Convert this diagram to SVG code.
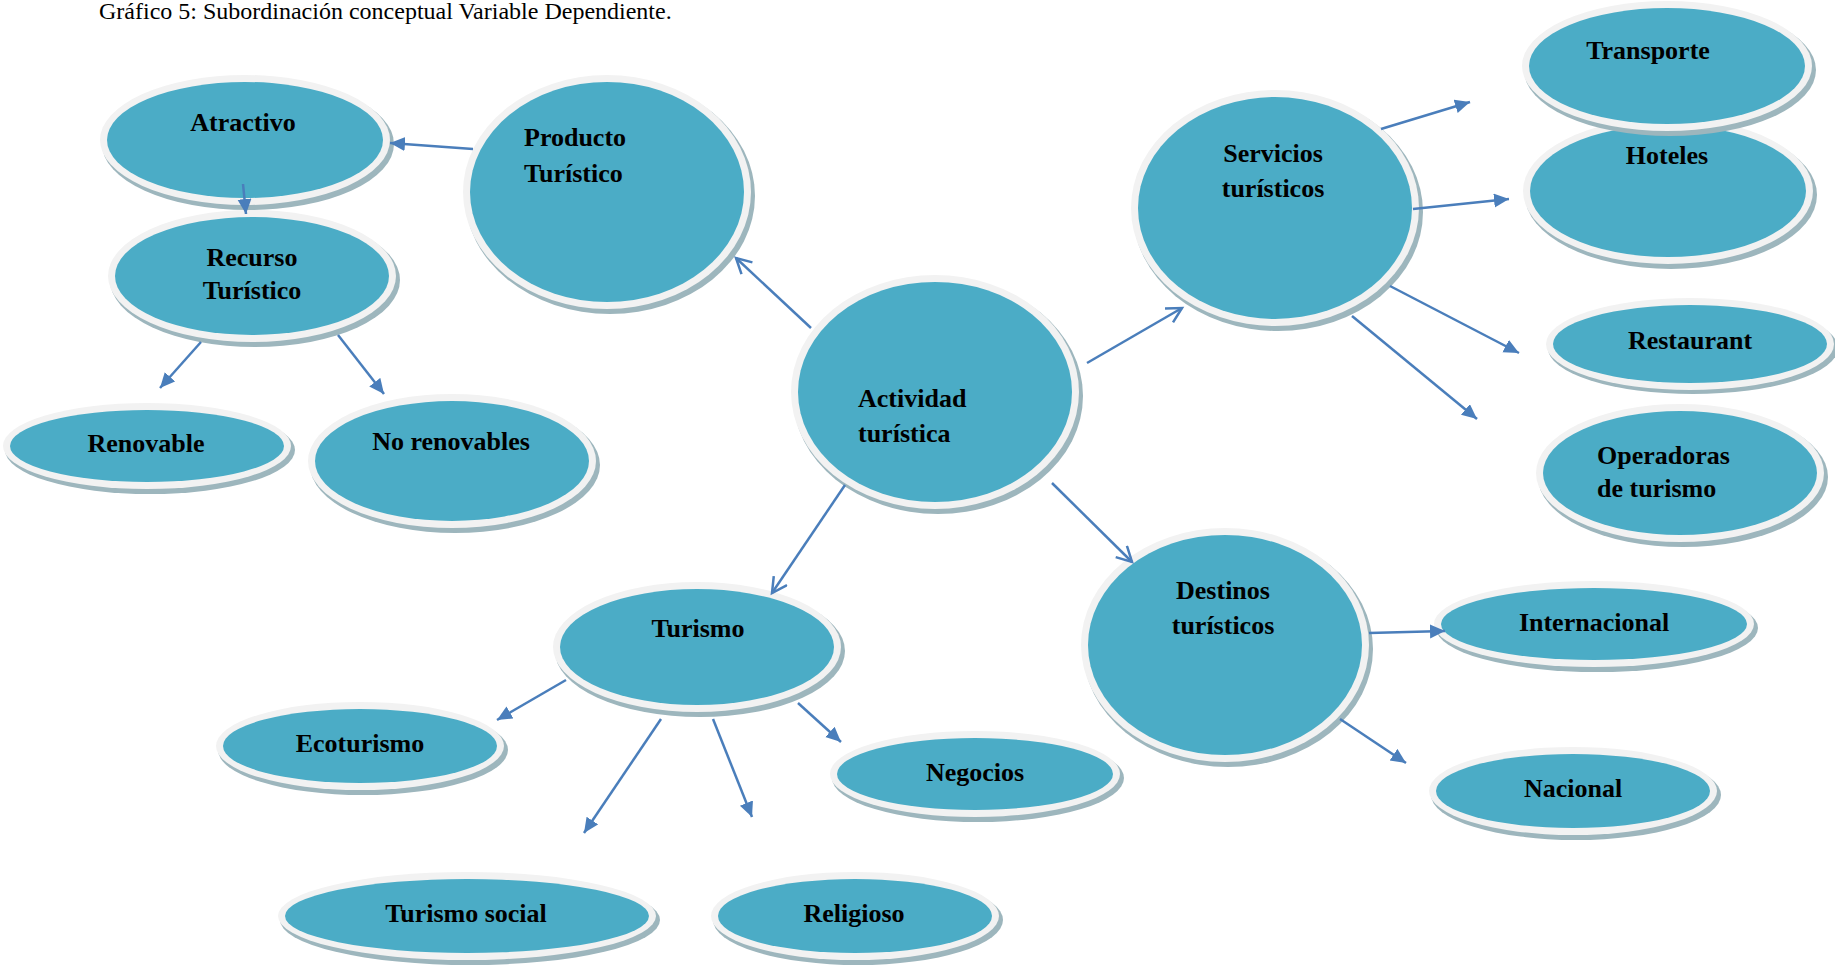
<svg xmlns="http://www.w3.org/2000/svg" width="1835" height="966" viewBox="0 0 1835 966">
<style>
.sh{fill:#9db6bd}
.rg{fill:#f2f2f2}
.fi{fill:#4bacc6}
.t{font-family:"Liberation Serif","Times New Roman",serif;font-weight:bold;font-size:26px;fill:#000}
.c{text-anchor:middle}
.ttl{font-family:"Liberation Serif","Times New Roman",serif;font-size:24px;fill:#000}
.ln{stroke:#4a7ebb;stroke-width:2.5;fill:none}
.f{marker-end:url(#af)}
.o{marker-end:url(#ao)}
</style>
<defs>
<marker id="af" markerUnits="userSpaceOnUse" markerWidth="18" markerHeight="16" refX="15" refY="7" orient="auto">
<path d="M0,0 L15,7 L0,14 z" fill="#4a7ebb"/>
</marker>
<marker id="ao" markerUnits="userSpaceOnUse" markerWidth="20" markerHeight="20" refX="16" refY="9" orient="auto">
<path d="M1,1 L16,9 L1,17" fill="none" stroke="#4a7ebb" stroke-width="2.5"/>
</marker>
</defs>
<rect width="1835" height="966" fill="#fff"/>
<text class="ttl" x="99" y="19">Gráfico 5: Subordinación conceptual Variable Dependiente.</text>

<g id="atractivo">
<ellipse class="sh" cx="248" cy="144" rx="146" ry="66"/>
<ellipse class="rg" cx="245" cy="140" rx="145" ry="65"/>
<ellipse class="fi" cx="245" cy="140" rx="138" ry="58"/>
<text class="t c" x="243" y="131">Atractivo</text>
</g>
<g id="recurso">
<ellipse class="sh" cx="255" cy="280" rx="145" ry="67"/>
<ellipse class="rg" cx="252" cy="276" rx="144" ry="66"/>
<ellipse class="fi" cx="252" cy="276" rx="137" ry="59"/>
<text class="t c" x="252" y="266">Recurso</text>
<text class="t c" x="252" y="299">Turístico</text>
</g>
<g id="producto">
<ellipse class="sh" cx="610" cy="196" rx="145" ry="118"/>
<ellipse class="rg" cx="607" cy="192" rx="144" ry="117"/>
<ellipse class="fi" cx="607" cy="192" rx="137" ry="110"/>
<text class="t" x="524" y="146">Producto</text>
<text class="t" x="524" y="182">Turístico</text>
</g>
<g id="actividad">
<ellipse class="sh" cx="938" cy="396" rx="145" ry="118"/>
<ellipse class="rg" cx="935" cy="392" rx="144" ry="117"/>
<ellipse class="fi" cx="935" cy="392" rx="137" ry="110"/>
<text class="t" x="858" y="407">Actividad</text>
<text class="t" x="858" y="442">turística</text>
</g>
<g id="servicios">
<ellipse class="sh" cx="1278" cy="212" rx="145" ry="119"/>
<ellipse class="rg" cx="1275" cy="208" rx="144" ry="118"/>
<ellipse class="fi" cx="1275" cy="208" rx="137" ry="111"/>
<text class="t c" x="1273" y="162">Servicios</text>
<text class="t c" x="1273" y="197">turísticos</text>
</g>
<g id="hoteles">
<ellipse class="sh" cx="1671" cy="195" rx="146" ry="74"/>
<ellipse class="rg" cx="1668" cy="191" rx="145" ry="73"/>
<ellipse class="fi" cx="1668" cy="191" rx="138" ry="66"/>
<text class="t c" x="1667" y="164">Hoteles</text>
</g>
<g id="transporte">
<ellipse class="sh" cx="1670" cy="70" rx="146" ry="66"/>
<ellipse class="rg" cx="1667" cy="66" rx="145" ry="65"/>
<ellipse class="fi" cx="1667" cy="66" rx="138" ry="58"/>
<text class="t c" x="1648" y="59">Transporte</text>
</g>
<g id="restaurant">
<ellipse class="sh" cx="1693" cy="348" rx="145" ry="46"/>
<ellipse class="rg" cx="1690" cy="344" rx="144" ry="46"/>
<ellipse class="fi" cx="1690" cy="344" rx="137" ry="39"/>
<text class="t c" x="1690" y="349">Restaurant</text>
</g>
<g id="operadoras">
<ellipse class="sh" cx="1683" cy="477" rx="145" ry="70"/>
<ellipse class="rg" cx="1680" cy="473" rx="144" ry="69"/>
<ellipse class="fi" cx="1680" cy="473" rx="137" ry="62"/>
<text class="t" x="1597" y="464">Operadoras</text>
<text class="t" x="1597" y="497">de turismo</text>
</g>
<g id="renovable">
<ellipse class="sh" cx="150" cy="450" rx="145" ry="44"/>
<ellipse class="rg" cx="147" cy="446" rx="144" ry="43"/>
<ellipse class="fi" cx="147" cy="446" rx="137" ry="36"/>
<text class="t c" x="146" y="452">Renovable</text>
</g>
<g id="norenovables">
<ellipse class="sh" cx="455" cy="465" rx="145" ry="68"/>
<ellipse class="rg" cx="452" cy="461" rx="144" ry="67"/>
<ellipse class="fi" cx="452" cy="461" rx="137" ry="60"/>
<text class="t c" x="451" y="450">No renovables</text>
</g>
<g id="turismo">
<ellipse class="sh" cx="700" cy="651" rx="145" ry="66"/>
<ellipse class="rg" cx="697" cy="647" rx="144" ry="65"/>
<ellipse class="fi" cx="697" cy="647" rx="137" ry="58"/>
<text class="t c" x="698" y="637">Turismo</text>
</g>
<g id="ecoturismo">
<ellipse class="sh" cx="363" cy="750" rx="145" ry="45"/>
<ellipse class="rg" cx="360" cy="746" rx="144" ry="44"/>
<ellipse class="fi" cx="360" cy="746" rx="137" ry="37"/>
<text class="t c" x="360" y="752">Ecoturismo</text>
</g>
<g id="negocios">
<ellipse class="sh" cx="978" cy="778" rx="146" ry="44"/>
<ellipse class="rg" cx="975" cy="774" rx="145" ry="43"/>
<ellipse class="fi" cx="975" cy="774" rx="138" ry="36"/>
<text class="t c" x="975" y="781">Negocios</text>
</g>
<g id="turismosocial">
<ellipse class="sh" cx="470" cy="920" rx="190" ry="45"/>
<ellipse class="rg" cx="467" cy="916" rx="189" ry="44"/>
<ellipse class="fi" cx="467" cy="916" rx="182" ry="37"/>
<text class="t c" x="466" y="922">Turismo social</text>
</g>
<g id="religioso">
<ellipse class="sh" cx="858" cy="920" rx="145" ry="45"/>
<ellipse class="rg" cx="855" cy="916" rx="144" ry="44"/>
<ellipse class="fi" cx="855" cy="916" rx="137" ry="37"/>
<text class="t c" x="854" y="922">Religioso</text>
</g>
<g id="destinos">
<ellipse class="sh" cx="1228" cy="649" rx="145" ry="118"/>
<ellipse class="rg" cx="1225" cy="645" rx="144" ry="117"/>
<ellipse class="fi" cx="1225" cy="645" rx="137" ry="110"/>
<text class="t c" x="1223" y="599">Destinos</text>
<text class="t c" x="1223" y="634">turísticos</text>
</g>
<g id="internacional">
<ellipse class="sh" cx="1597" cy="628" rx="161" ry="44"/>
<ellipse class="rg" cx="1594" cy="624" rx="160" ry="43"/>
<ellipse class="fi" cx="1594" cy="624" rx="153" ry="36"/>
<text class="t c" x="1594" y="631">Internacional</text>
</g>
<g id="nacional">
<ellipse class="sh" cx="1576" cy="795" rx="145" ry="45"/>
<ellipse class="rg" cx="1573" cy="791" rx="144" ry="44"/>
<ellipse class="fi" cx="1573" cy="791" rx="137" ry="37"/>
<text class="t c" x="1573" y="797">Nacional</text>
</g>

<g id="connectors">
<line class="ln o" x1="811" y1="328" x2="736" y2="258"/>
<line class="ln o" x1="1087" y1="363" x2="1182" y2="308"/>
<line class="ln o" x1="845" y1="485" x2="772" y2="593"/>
<line class="ln o" x1="1052" y1="483" x2="1132" y2="562"/>
<line class="ln f" x1="473" y1="149" x2="390" y2="143"/>
<line class="ln f" x1="243" y1="184" x2="246" y2="214"/>
<line class="ln f" x1="201" y1="342" x2="160" y2="388"/>
<line class="ln f" x1="338" y1="335" x2="384" y2="394"/>
<line class="ln f" x1="1381" y1="129" x2="1470" y2="102"/>
<line class="ln f" x1="1413" y1="209" x2="1509" y2="199"/>
<line class="ln f" x1="1390" y1="286" x2="1519" y2="353"/>
<line class="ln f" x1="1352" y1="316" x2="1477" y2="419"/>
<line class="ln f" x1="566" y1="680" x2="497" y2="720"/>
<line class="ln f" x1="661" y1="719" x2="584" y2="833"/>
<line class="ln f" x1="713" y1="719" x2="752" y2="817"/>
<line class="ln f" x1="798" y1="703" x2="841" y2="742"/>
<line class="ln f" x1="1369" y1="633" x2="1445" y2="631"/>
<line class="ln f" x1="1340" y1="719" x2="1406" y2="763"/>
</g>
</svg>
